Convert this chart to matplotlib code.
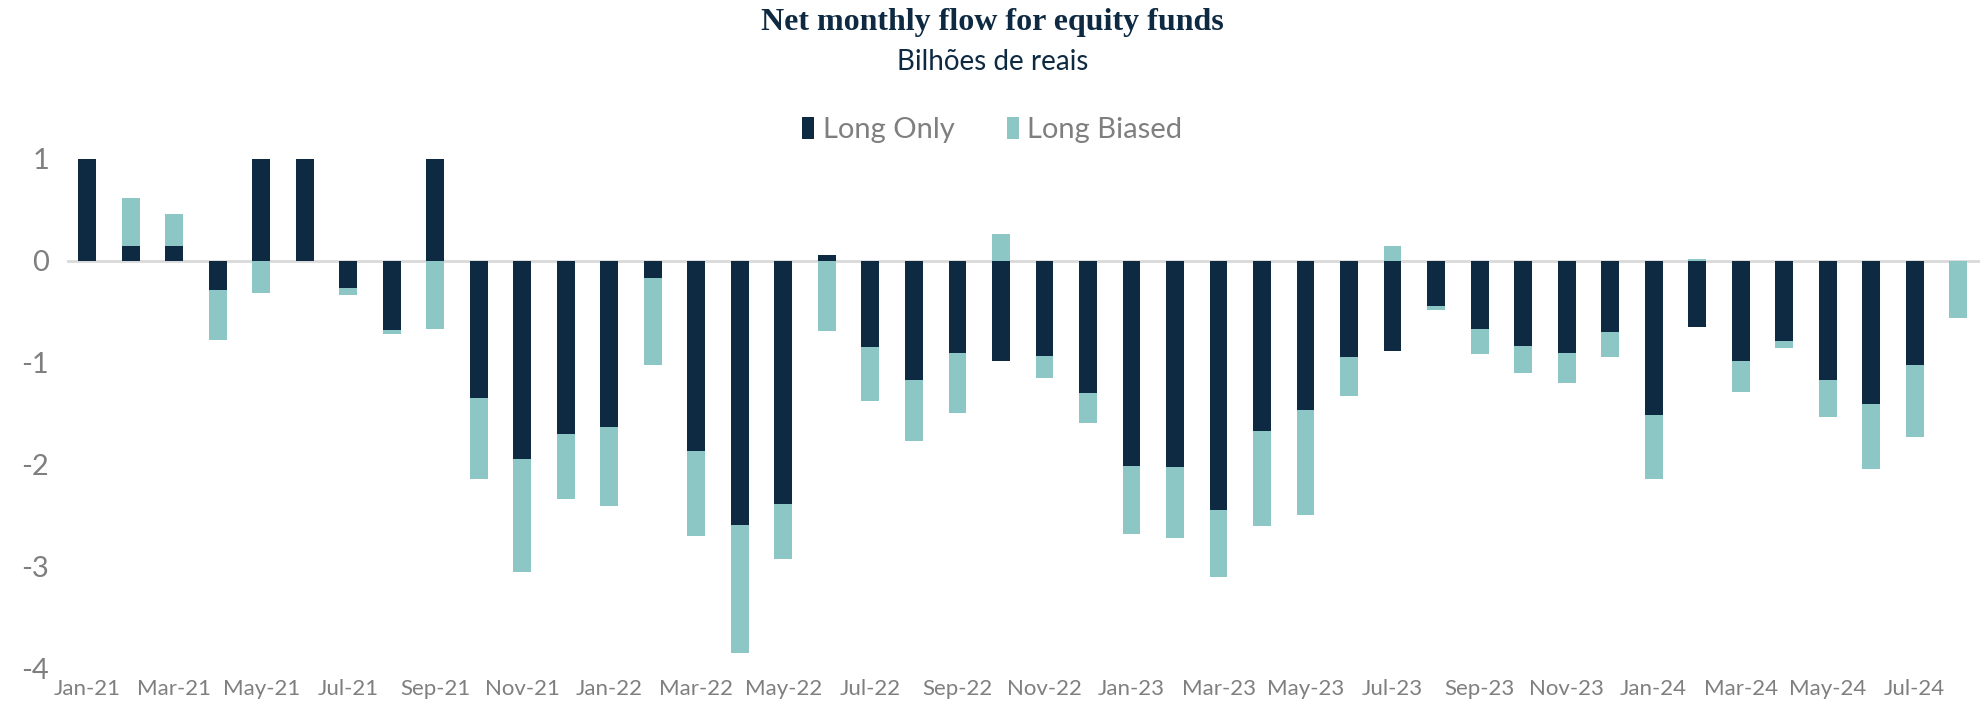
import numpy as np
import matplotlib.pyplot as plt

months = ["Jan-21", "Feb-21", "Mar-21", "Apr-21", "May-21", "Jun-21", "Jul-21", "Aug-21",
          "Sep-21", "Oct-21", "Nov-21", "Dec-21", "Jan-22", "Feb-22", "Mar-22", "Apr-22",
          "May-22", "Jun-22", "Jul-22", "Aug-22", "Sep-22", "Oct-22", "Nov-22", "Dec-22",
          "Jan-23", "Feb-23", "Mar-23", "Apr-23", "May-23", "Jun-23", "Jul-23", "Aug-23",
          "Sep-23", "Oct-23", "Nov-23", "Dec-23", "Jan-24", "Feb-24", "Mar-24", "Apr-24",
          "May-24", "Jun-24", "Jul-24", "Aug-24"]

long_only = [1.00, 0.14, 0.14, -0.29, 1.00, 1.00, -0.27, -0.68,
             1.00, -1.35, -1.95, -1.70, -1.63, -0.17, -1.87, -2.60,
             -2.39, 0.05, -0.85, -1.17, -0.91, -0.99, -0.94, -1.30,
             -2.02, -2.03, -2.45, -1.67, -1.47, -0.95, -0.89, -0.45,
             -0.67, -0.84, -0.91, -0.70, -1.52, -0.65, -0.99, -0.79,
             -1.17, -1.41, -1.03, 0.00]

long_biased = [0.00, 0.47, 0.32, -0.49, -0.32, 0.00, -0.07, -0.04,
               -0.67, -0.79, -1.11, -0.64, -0.78, -0.86, -0.83, -1.25,
               -0.54, -0.69, -0.53, -0.60, -0.59, 0.26, -0.21, -0.29,
               -0.66, -0.69, -0.66, -0.94, -1.03, -0.38, 0.14, -0.04,
               -0.25, -0.26, -0.29, -0.25, -0.62, 0.02, -0.30, -0.07,
               -0.37, -0.64, -0.70, -0.56]

navy = "#0E2A42"
teal = "#8CC7C6"
grey = "#7F7F7F"

plt.rcParams['font.family'] = ['Lato', 'DejaVu Sans']

lo = np.array(long_only)
lb = np.array(long_biased)
x = np.arange(len(months))
# negatives stack on negatives, positives on positives
bottom_lb = np.where(np.sign(lb) == np.sign(lo), lo, 0.0)

fig = plt.figure(figsize=(19.85, 7.04), dpi=100)
ax = fig.add_axes([0.0338, 0.0511, 0.9637, 0.7235])

w = 0.41
ax.bar(x, lo, width=w, color=navy, label="Long Only", zorder=3)
ax.bar(x, lb, width=w, bottom=bottom_lb, color=teal, label="Long Biased", zorder=3)
ax.axhline(0, color="#D9D9D9", lw=2, zorder=2)

ax.set_xlim(-0.46, 43.5)
ax.set_ylim(-4, 1)
ax.set_yticks([1, 0, -1, -2, -3, -4])
ax.set_yticklabels(["1", "0", "-1", "-2", "-3", "-4"])
ax.set_xticks(x[::2])
ax.set_xticklabels(months[::2])
ax.tick_params(axis="y", length=0, labelsize=21, labelcolor=grey, pad=13)
ax.tick_params(axis="x", length=0, labelsize=16, labelcolor=grey, pad=8)
for s in ax.spines.values():
    s.set_visible(False)

fig.text(0.5, 0.968, "Net monthly flow for equity funds", ha="center", va="center",
         fontsize=23, fontweight="bold", color=navy, family=["Liberation Serif", "DejaVu Serif"])
fig.text(0.5, 0.912, "Bilhões de reais", ha="center", va="center", fontsize=20, color=navy)

ax.legend(loc="center", bbox_to_anchor=(0.5, 0.8155), bbox_transform=fig.transFigure,
          ncol=2, frameon=False, fontsize=21, labelcolor=grey, handlelength=0.4,
          handleheight=0.8, handletextpad=0.3, columnspacing=1.8)

fig.savefig("out.png", dpi=100)
